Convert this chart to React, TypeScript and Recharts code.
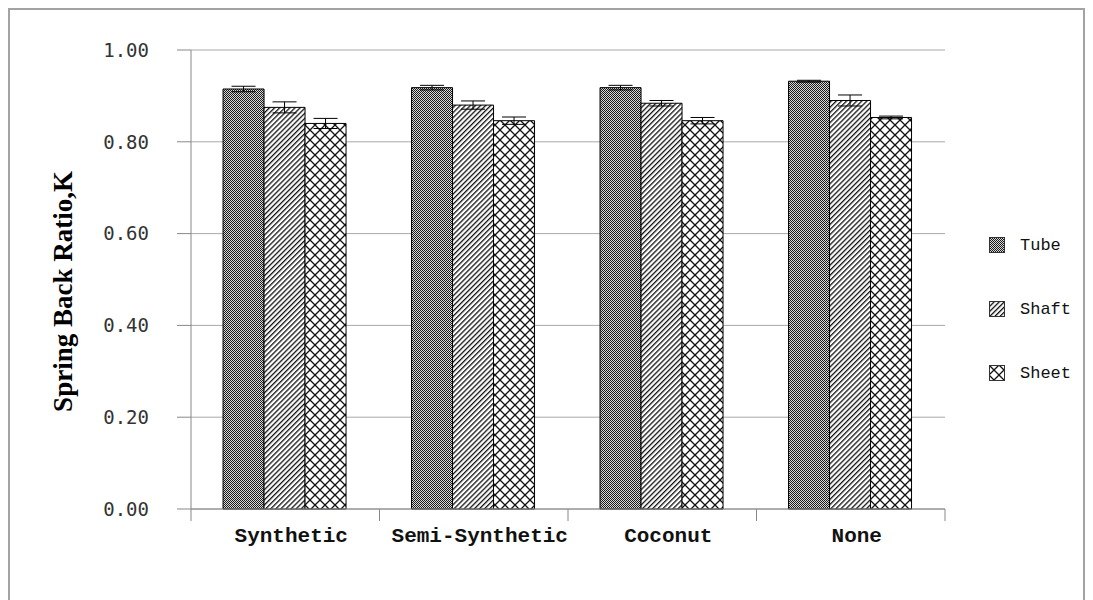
import { Bar, BarChart, CartesianGrid, ErrorBar, XAxis, YAxis } from 'recharts';

// values
const categories = ['Synthetic', 'Semi-Synthetic', 'Coconut', 'None'];
const tube = [0.915, 0.918, 0.918, 0.932];
const tubeErr = [0.006, 0.005, 0.005, 0.002];
const shaft = [0.875, 0.880, 0.884, 0.890];
const shaftErr = [0.012, 0.009, 0.006, 0.012];
const sheet = [0.840, 0.846, 0.846, 0.853];
const sheetErr = [0.011, 0.008, 0.007, 0.003];
const yTicks = [0, 0.2, 0.4, 0.6, 0.8, 1.0];

const data = categories.map((name, i) => ({
  name,
  tube: tube[i],
  tubeErr: tubeErr[i],
  shaft: shaft[i],
  shaftErr: shaftErr[i],
  sheet: sheet[i],
  sheetErr: sheetErr[i],
}));

const CHART_W = 1073;
const CHART_H = 596;
const MARGIN = { top: 40, right: 138, left: 0, bottom: 37 };
const Y_W = 181;
const BAND = (CHART_W - MARGIN.left - MARGIN.right - Y_W) / categories.length;

const series = [
  { key: 'tube', err: 'tubeErr', name: 'Tube', fill: 'url(#pTube)' },
  { key: 'shaft', err: 'shaftErr', name: 'Shaft', fill: 'url(#pShaft)' },
  { key: 'sheet', err: 'sheetErr', name: 'Sheet', fill: 'url(#pSheet)' },
];

// category label in the middle, tick marks on the category boundaries
function CatTick(props: any) {
  const { x, y, payload, index } = props;
  const left = x - BAND / 2;
  return (
    <g>
      <line x1={left} y1={y} x2={left} y2={y + 12} stroke="#888" />
      {index === categories.length - 1 && (
        <line x1={x + BAND / 2} y1={y} x2={x + BAND / 2} y2={y + 12} stroke="#888" />
      )}
      <text
        x={x + 6}
        y={y + 33}
        textAnchor="middle"
        fontFamily="'Liberation Mono', monospace"
        fontWeight="bold"
        fontSize={21}
        fill="#111"
      >
        {payload.value}
      </text>
    </g>
  );
}

function Patterns() {
  return (
    <svg width={0} height={0} style={{ position: 'absolute' }}>
      <defs>
        <pattern id="pTube" patternUnits="userSpaceOnUse" width={2} height={2}>
          <rect width={2} height={2} fill="#d8d8d8" />
          <rect width={1} height={1} fill="#1a1a1a" />
          <rect x={1} y={1} width={1} height={1} fill="#1a1a1a" />
        </pattern>
        <pattern id="pShaft" patternUnits="userSpaceOnUse" width={3.6} height={3.6} patternTransform="rotate(45)">
          <rect width={3.6} height={3.6} fill="#fff" />
          <rect width={1.3} height={3.6} fill="#111" />
        </pattern>
        <pattern id="pSheet" patternUnits="userSpaceOnUse" width={10} height={10}>
          <rect width={10} height={10} fill="#fff" />
          <path d="M0,0 L10,10 M10,0 L0,10" stroke="#111" strokeWidth={1.3} />
        </pattern>
      </defs>
    </svg>
  );
}

export default function App() {
  return (
    <div
      style={{
        position: 'relative',
        width: 1077,
        height: 600,
        border: '2px solid #a3a3a3',
        boxSizing: 'border-box',
        background: '#fff',
      }}
    >
      <Patterns />
      <BarChart width={CHART_W} height={CHART_H} data={data} margin={MARGIN} barGap={0} barCategoryGap="17%">
        <CartesianGrid horizontal vertical={false} stroke="#a8a8a8" />
        <XAxis
          dataKey="name"
          height={60}
          axisLine={{ stroke: '#888' }}
          tickLine={false}
          tickSize={0}
          tickMargin={0}
          tick={<CatTick />}
          interval={0}
        />
        <YAxis
          width={Y_W}
          domain={[0, 1]}
          ticks={yTicks}
          tickFormatter={(v: number) => v.toFixed(2)}
          axisLine={{ stroke: '#888' }}
          tickLine={{ stroke: '#888' }}
          tickSize={14}
          tickMargin={28}
          tick={{ fontSize: 19, fill: '#333', fontFamily: "'DejaVu Sans Mono', monospace" }}
          label={{
            value: 'Spring Back Ratio,K',
            angle: -90,
            position: 'insideLeft',
            offset: 52,
            dy: 12,
            style: {
              textAnchor: 'middle',
              fontFamily: "'Liberation Serif', 'Times New Roman', serif",
              fontWeight: 'bold',
              fontSize: 27,
              fill: '#000',
            },
          }}
        />
        {series.map((s) => (
          <Bar key={s.key} dataKey={s.key} name={s.name} fill={s.fill} stroke="#000" strokeWidth={1} isAnimationActive={false}>
            <ErrorBar dataKey={s.err} width={12} stroke="#000" strokeWidth={1} direction="y" isAnimationActive={false} />
          </Bar>
        ))}
      </BarChart>
      <div style={{ position: 'absolute', left: 979, top: 203 }}>
        {series.map((s) => (
          <div key={s.key} style={{ display: 'flex', alignItems: 'center', height: 64 }}>
            <svg width={16} height={16} style={{ marginRight: 15 }}>
              <rect x={0.5} y={0.5} width={15} height={15} fill={s.fill} stroke="#333" />
            </svg>
            <span style={{ fontFamily: "'Liberation Mono', monospace", fontSize: 17, color: '#111' }}>{s.name}</span>
          </div>
        ))}
      </div>
    </div>
  );
}
